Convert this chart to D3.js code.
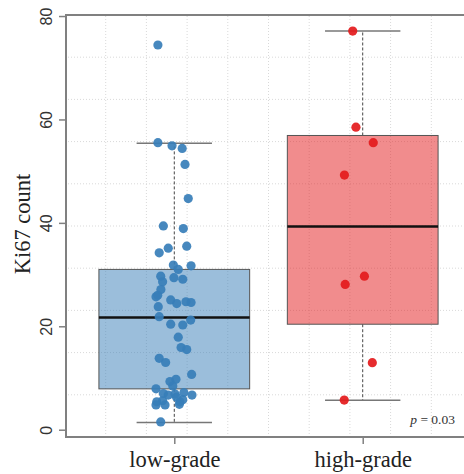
<!DOCTYPE html>
<html>
<head>
<meta charset="utf-8">
<script src="https://cdn.jsdelivr.net/npm/d3@7"></script>
<style>
  body { margin: 0; background: #fff; }
  svg { display: block; }
</style>
</head>
<body>
<div id="chart"></div>
<script>
// categories
const groups = ['low-grade', 'high-grade'];
const colors = ['#377eb8', '#e41a1c'];

// box stats: [lower whisker, q1, median, q3, upper whisker]
const lowStats = [1.4, 7.9, 21.7, 31.0, 55.4];
const highStats = [5.7, 20.4, 39.3, 56.9, 77.1];

// Ki67 counts per case, with the jitter (in category units) seen in the picture
const lowValues = [74.4, 55.5, 54.9, 54.4, 51.3, 44.7, 39.4, 38.9, 35.5, 34.2,
  35.1, 31.85, 31.0, 31.7, 29.7, 28.6, 29.4, 29.1, 27.1, 26.0,
  25.7, 25.1, 24.4, 24.75, 24.6, 23.8, 21.85, 20.4, 20.25, 21.2,
  17.9, 15.9, 15.5, 13.8, 13.0, 10.7, 9.3, 9.75, 8.45, 7.9,
  7.0, 7.2, 6.7, 6.7, 6.9, 5.4, 5.6, 5.4, 4.8, 4.8,
  4.9, 1.5, 5.8, 6.3];
const lowJitter = [-0.087, -0.087, -0.012, 0.042, 0.057, 0.074, -0.058, 0.048, 0.066, -0.080,
  -0.032, -0.005, 0.021, 0.089, -0.072, -0.062, -0.002, 0.045, -0.071, -0.088,
  -0.097, -0.019, 0.013, 0.062, 0.089, -0.085, -0.080, -0.019, 0.045, 0.087,
  0.021, 0.036, 0.066, -0.080, -0.046, 0.092, -0.023, 0.009, -0.008, -0.097,
  -0.058, 0.051, 0.094, -0.032, 0.004, -0.093, -0.062, 0.030, -0.049, -0.097,
  0.027, -0.072, 0.045, 0.012];
const highValues = [77.1, 58.5, 55.5, 49.25, 29.7, 28.1, 12.96, 5.74];
const highJitter = [-0.053, -0.036, 0.056, -0.097, 0.009, -0.093, 0.051, -0.098];

const yTicks = [0, 20, 40, 60, 80];
const pLabel = '0.03';

const W = 464, H = 474;
const margin = { t: 15, l: 65, b: 37, r: -8 };

const x = d3.scaleLinear().domain([0.42, 2.58]).range([margin.l, W - margin.r]);
const y = d3.scaleLinear().domain([-1.41, 80.2]).range([H - margin.b, margin.t]);
const unit = x(2) - x(1);

const svg = d3.select('#chart').append('svg')
  .attr('width', W)
  .attr('height', H);

// dotted grid, 10 equal divisions each way
const gx = d3.range(1, 10).map(i => x.domain()[0] + i * (x.domain()[1] - x.domain()[0]) / 10);
const gy = d3.range(1, 10).map(i => y.domain()[0] + i * (y.domain()[1] - y.domain()[0]) / 10);
const grid = svg.append('g').attr('class', 'grid')
  .attr('stroke', '#d9d9d9').attr('stroke-width', 1).attr('stroke-dasharray', '1,2');
grid.selectAll('line.v').data(gx).enter().append('line')
  .attr('class', 'v')
  .attr('x1', d => x(d)).attr('x2', d => x(d))
  .attr('y1', y.range()[0]).attr('y2', y.range()[1]);
grid.selectAll('line.h').data(gy).enter().append('line')
  .attr('class', 'h')
  .attr('x1', x.range()[0]).attr('x2', x.range()[1])
  .attr('y1', d => y(d)).attr('y2', d => y(d));

const stats = [lowStats, highStats];
const boxW = 0.8 * unit;

const boxes = svg.selectAll('.box')
  .data(stats)
  .enter().append('g')
  .attr('class', 'box')
  .attr('transform', (d, i) => `translate(${x(i + 1)},0)`);

// whiskers
boxes.append('line')
  .attr('x1', 0).attr('x2', 0)
  .attr('y1', d => y(d[3])).attr('y2', d => y(d[4]))
  .attr('stroke', '#444').attr('stroke-dasharray', '3,2');
boxes.append('line')
  .attr('x1', 0).attr('x2', 0)
  .attr('y1', d => y(d[1])).attr('y2', d => y(d[0]))
  .attr('stroke', '#444').attr('stroke-dasharray', '3,2');
boxes.selectAll('line.cap')
  .data(d => [d[0], d[4]])
  .enter().append('line')
  .attr('class', 'cap')
  .attr('x1', -boxW / 4).attr('x2', boxW / 4)
  .attr('y1', d => y(d)).attr('y2', d => y(d))
  .attr('stroke', '#777').attr('stroke-width', 1.5);

boxes.append('rect')
  .attr('x', -boxW / 2)
  .attr('width', boxW)
  .attr('y', d => y(d[3]))
  .attr('height', d => y(d[1]) - y(d[3]))
  .attr('fill', (d, i) => colors[i])
  .attr('fill-opacity', 0.5)
  .attr('stroke', '#555')
  .attr('stroke-width', 1);

boxes.append('line')
  .attr('x1', -boxW / 2).attr('x2', boxW / 2)
  .attr('y1', d => y(d[2])).attr('y2', d => y(d[2]))
  .attr('stroke', '#111').attr('stroke-width', 2.6);

// jittered points
const pts = [];
lowValues.forEach((v, i) => pts.push({ g: 0, v: v, j: lowJitter[i] }));
highValues.forEach((v, i) => pts.push({ g: 1, v: v, j: highJitter[i] }));

svg.append('g').selectAll('circle')
  .data(pts)
  .enter().append('circle')
  .attr('cx', d => x(d.g + 1 + d.j))
  .attr('cy', d => y(d.v))
  .attr('r', 4.6)
  .attr('fill', d => colors[d.g])
  .attr('fill-opacity', 0.92);

// frame
svg.append('rect')
  .attr('x', x.range()[0] + 1).attr('y', y.range()[1])
  .attr('width', x.range()[1] - x.range()[0])
  .attr('height', y.range()[0] - y.range()[1])
  .attr('fill', 'none')
  .attr('stroke', '#808080')
  .attr('stroke-width', 2);

// y axis
const axisY = d3.axisLeft(y).tickValues(yTicks).tickSize(7).tickSizeOuter(0);
const gY = svg.append('g')
  .attr('transform', `translate(${x.range()[0] + 1},0)`)
  .call(axisY);
gY.select('.domain').remove();
gY.selectAll('line').attr('stroke', '#808080').attr('stroke-width', 1.5);
gY.selectAll('text')
  .attr('transform', 'rotate(-90)')
  .attr('x', 0)
  .attr('y', -14)
  .attr('dy', 0)
  .style('text-anchor', 'middle')
  .style('font-family', "'Liberation Sans', Arial, sans-serif")
  .style('font-size', '16px')
  .attr('fill', '#333');

// x axis
const axisX = d3.axisBottom(x).tickValues([1, 2]).tickSize(7).tickSizeOuter(0)
  .tickFormat(d => groups[d - 1]);
const gX = svg.append('g')
  .attr('transform', `translate(0,${y.range()[0]})`)
  .call(axisX);
gX.select('.domain').remove();
gX.selectAll('line').attr('stroke', '#808080').attr('stroke-width', 1.5);
gX.selectAll('text')
  .attr('y', 30)
  .attr('dy', 0)
  .style('font-family', "'Liberation Serif', 'Times New Roman', serif")
  .style('font-size', '22.5px')
  .attr('fill', '#222');

// y title
svg.append('text')
  .attr('transform', `translate(30,${(y.range()[0] + y.range()[1]) / 2 - 2}) rotate(-90)`)
  .style('text-anchor', 'middle')
  .style('font-family', "'Liberation Serif', 'Times New Roman', serif")
  .style('font-size', '22.5px')
  .attr('fill', '#222')
  .text('Ki67 count');

// p value
const pText = svg.append('text')
  .attr('x', 455)
  .attr('y', 424)
  .style('text-anchor', 'end')
  .style('font-family', "'Liberation Serif', 'Times New Roman', serif")
  .style('font-size', '13.5px')
  .attr('fill', '#333');
pText.append('tspan').style('font-style', 'italic').text('p');
pText.append('tspan').text(' = ' + pLabel);
</script>
</body>
</html>
